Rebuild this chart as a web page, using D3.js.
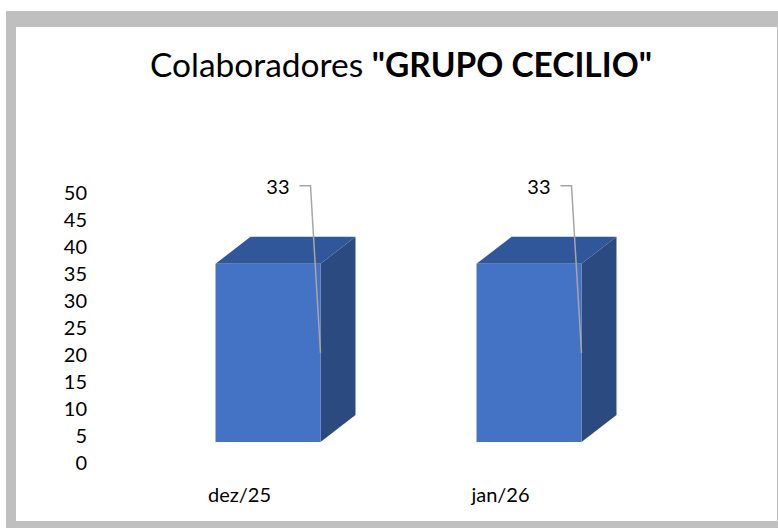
<!DOCTYPE html>
<html>
<head>
<meta charset="utf-8">
<script src="https://cdn.jsdelivr.net/npm/d3@7"></script>
<style>
  html, body { margin: 0; padding: 0; background: #fff; }
  text { font-family: Lato, "Open Sans", sans-serif; fill: #000; }
</style>
</head>
<body>
<div id="chart"></div>
<script>
const categories = ["dez/25", "jan/26"];
const values = [33, 33];
const yTicks = [0, 5, 10, 15, 20, 25, 30, 35, 40, 45, 50];
const titleNormal = "Colaboradores ";
const titleBold = "\"GRUPO CECILIO\"";

const svgWidth = 778, svgHeight = 528;
const labelSize = "20px";

const svg = d3.select("#chart").append("svg")
    .attr("width", svgWidth)
    .attr("height", svgHeight);

// frame
svg.append("rect")
    .attr("x", 6).attr("y", 11)
    .attr("width", 772).attr("height", 517)
    .attr("fill", "#bfbfbf");
svg.append("rect")
    .attr("x", 16).attr("y", 27)
    .attr("width", 761).attr("height", 494)
    .attr("fill", "#ffffff");

// title
const title = svg.append("text")
    .attr("x", 401)
    .attr("y", 77)
    .attr("text-anchor", "middle")
    .style("font-size", "34px");
title.append("tspan").text(titleNormal);
title.append("tspan").style("font-weight", "bold").text(titleBold);
const tw = title.node().getComputedTextLength();
title.style("font-size", `${34 * 502 / tw}px`);

const y = d3.scaleLinear()
    .domain([0, 50])
    .range([463, 193]);

const x = d3.scaleBand()
    .domain(categories)
    .range([109, 631])
    .padding(0);

// y axis labels
svg.append("g")
    .selectAll("text")
    .data(yTicks)
    .join("text")
        .attr("x", 87)
        .attr("y", d => y(d))
        .attr("dy", "0.35em")
        .attr("text-anchor", "end")
        .style("font-size", labelSize)
        .text(d => d);

// x axis labels
svg.append("g")
    .selectAll("text")
    .data(categories)
    .join("text")
        .attr("x", d => x(d) + x.bandwidth() / 2)
        .attr("y", 495)
        .attr("dy", "0.35em")
        .attr("text-anchor", "middle")
        .style("font-size", labelSize)
        .text(d => d);

// 3D projection of the columns
const barWidth = 105;
const front = { dx: -24, dy: -21 };
const depth = { dx: 35, dy: -27 };

const data = categories.map((c, i) => ({ cat: c, value: values[i] }));

const bars = svg.append("g")
    .selectAll("g")
    .data(data)
    .join("g");

bars.each(function(d) {
    const g = d3.select(this);
    const x0 = x(d.cat) + x.bandwidth() / 2 + front.dx;
    const x1 = x0 + barWidth;
    const yTop = y(d.value) + front.dy;
    const yBot = y(0) + front.dy;

    g.append("polygon")
        .attr("points", [[x1, yTop], [x1 + depth.dx, yTop + depth.dy], [x1 + depth.dx, yBot + depth.dy], [x1, yBot]].join(" "))
        .attr("fill", "#2b4a7f");
    g.append("polygon")
        .attr("points", [[x0, yTop], [x0 + depth.dx, yTop + depth.dy], [x1 + depth.dx, yTop + depth.dy], [x1, yTop]].join(" "))
        .attr("fill", "#30579a");
    g.append("rect")
        .attr("x", x0).attr("y", yTop)
        .attr("width", barWidth).attr("height", yBot - yTop)
        .attr("fill", "#4472c4");

    // data label with leader line
    const labelY = yTop + depth.dy - 50;
    const midY = (yTop + yBot) / 2;
    g.append("polyline")
        .attr("points", [[x1 - 21, labelY - 1], [x1 - 10, labelY - 1], [x1, midY]].join(" "))
        .attr("fill", "none")
        .attr("stroke", "#a6a6a6")
        .attr("stroke-width", 1.5);
    g.append("text")
        .attr("x", x1 - 31)
        .attr("y", labelY)
        .attr("dy", "0.35em")
        .attr("text-anchor", "end")
        .style("font-size", labelSize)
        .text(d.value);
});
</script>
</body>
</html>
